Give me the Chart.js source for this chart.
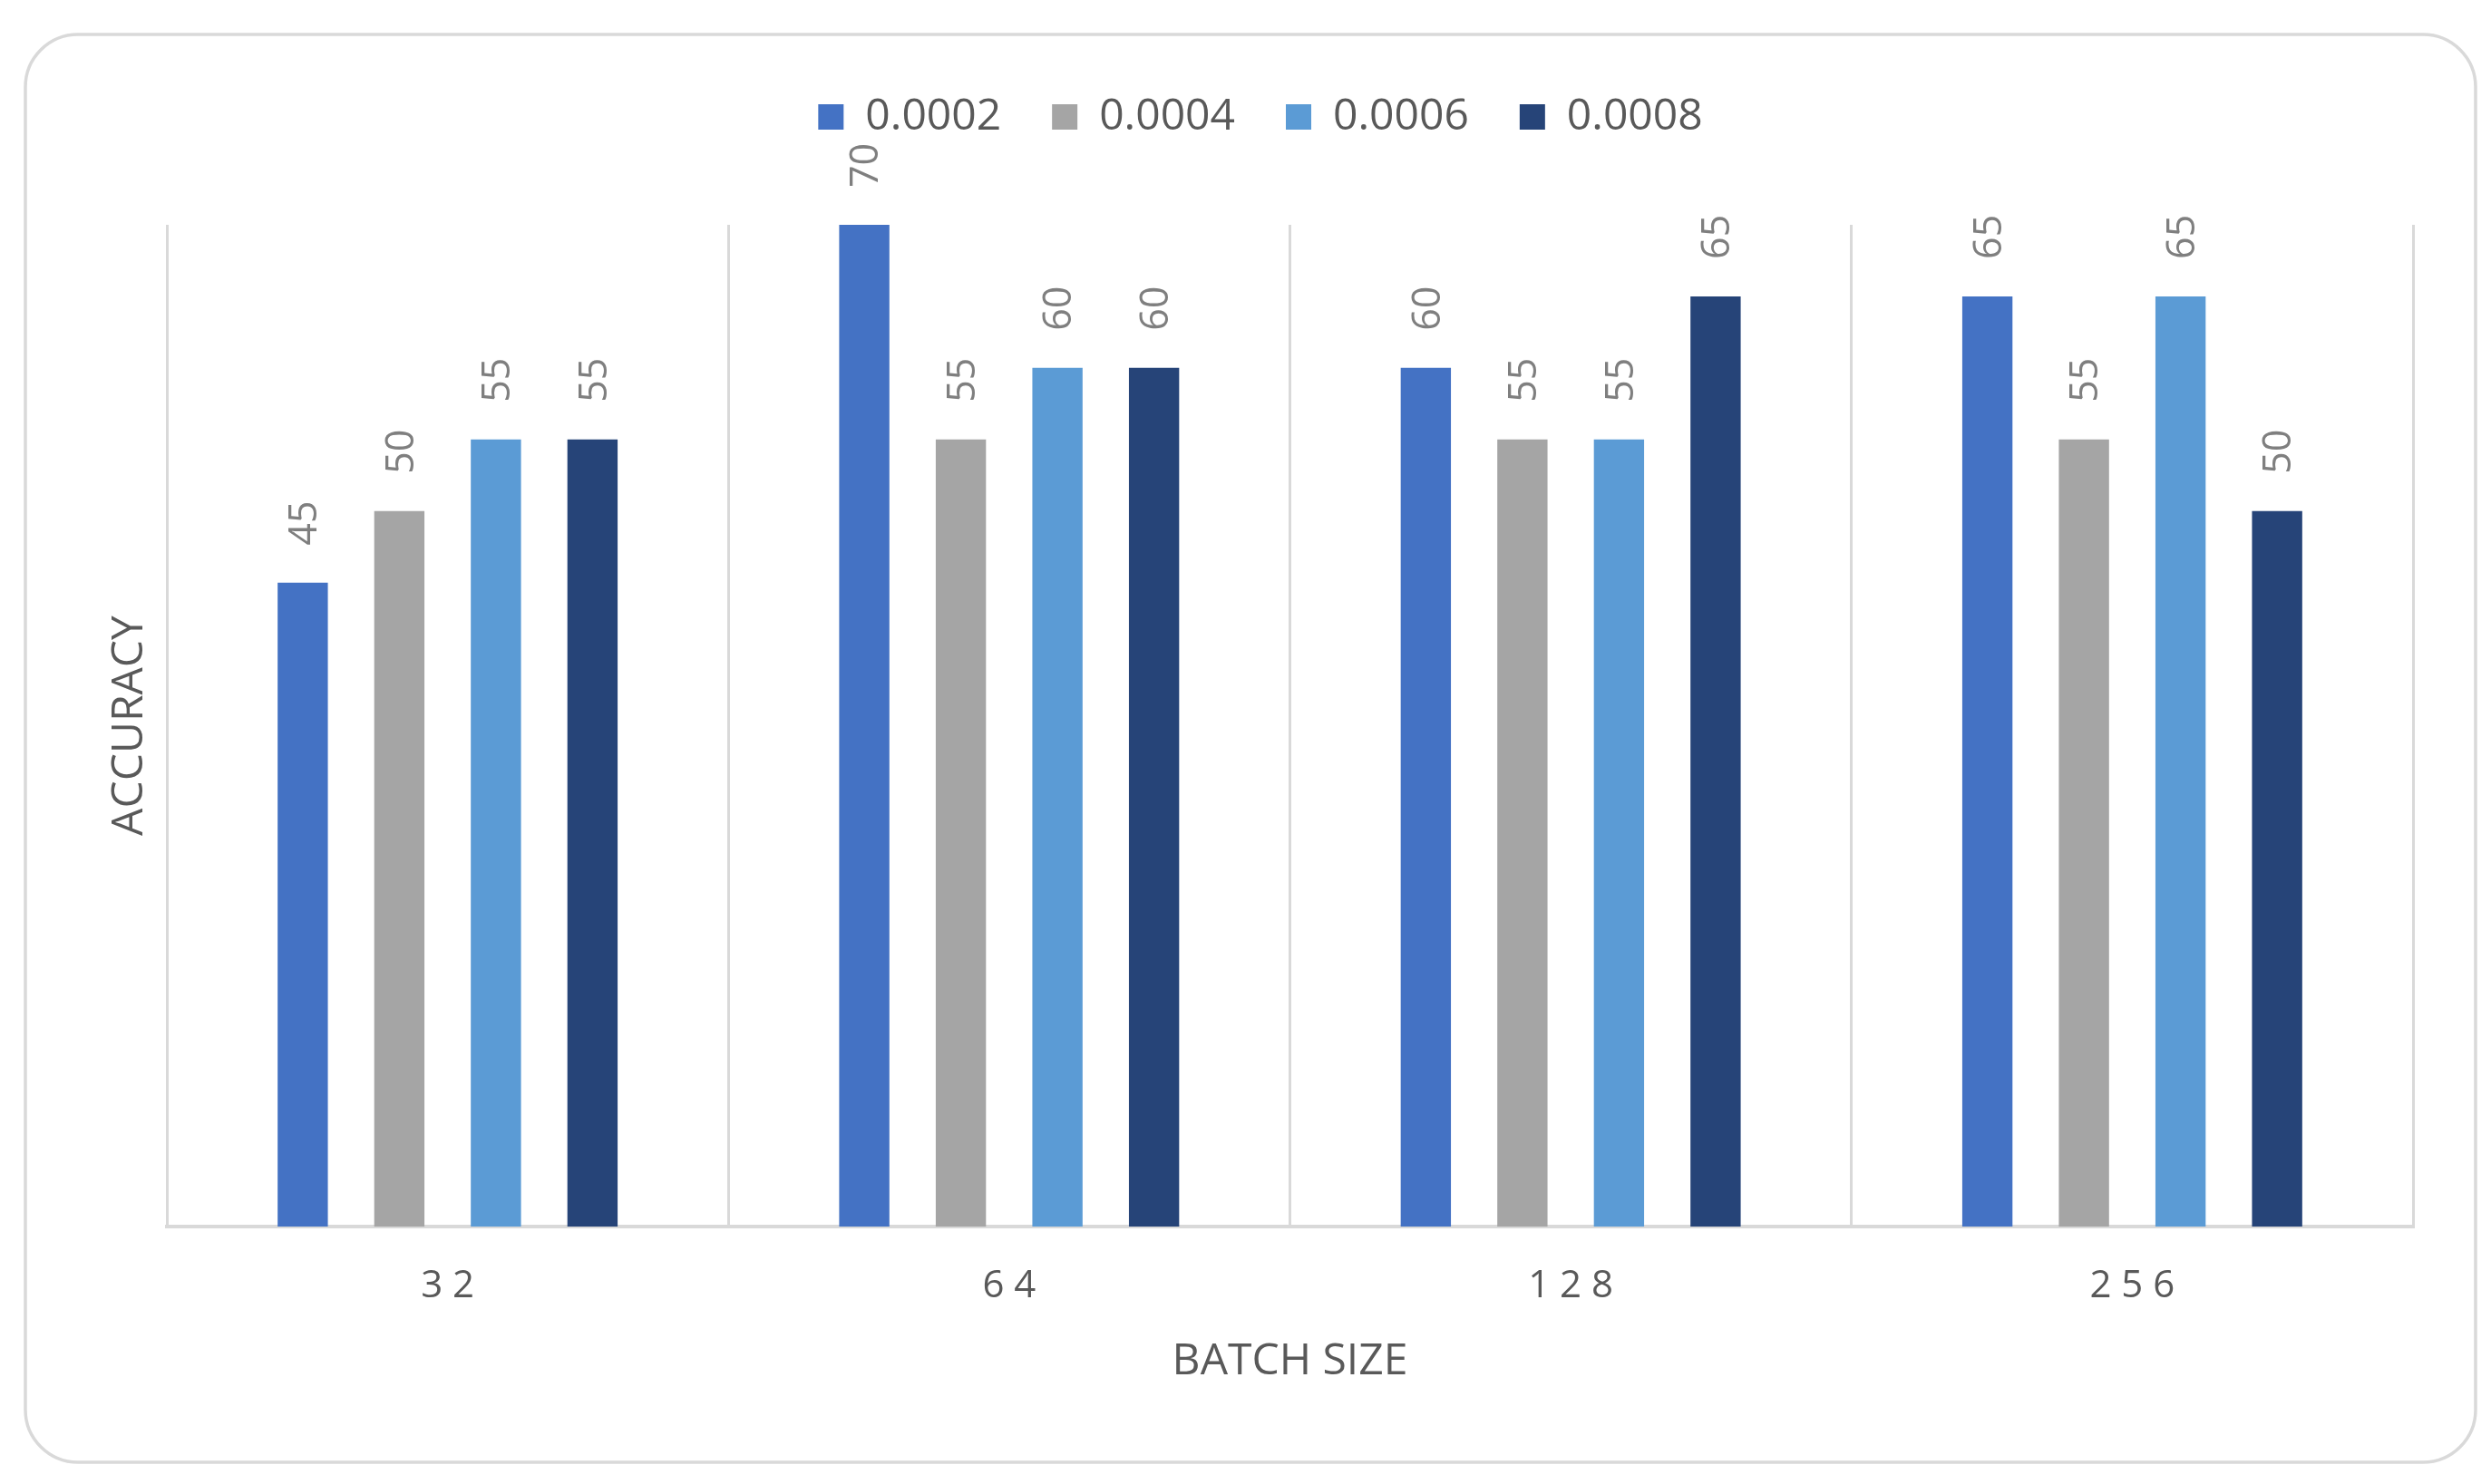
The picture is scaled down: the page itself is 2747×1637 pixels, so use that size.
<!DOCTYPE html>
<html>
<head>
<meta charset="utf-8">
<script src="https://cdn.jsdelivr.net/npm/chart.js@4.4.1/dist/chart.umd.min.js"></script>
<style>
  html, body { margin: 0; padding: 0; background: #ffffff; }
  canvas { display: block; }
</style>
</head>
<body>
<canvas id="c" width="2747" height="1637"></canvas>
<script>
// ---- data ----
const batchSizes = ['32', '64', '128', '256'];
const seriesNames = ['0.0002', '0.0004', '0.0006', '0.0008'];
const acc0002 = [45, 70, 60, 65];
const acc0004 = [50, 55, 55, 55];
const acc0006 = [55, 60, 55, 65];
const acc0008 = [55, 60, 65, 50];
const yMin = 0;
const yMax = 70;

const seriesColors = ['#4472C4', '#A5A5A5', '#5B9BD5', '#264478'];
const seriesValues = [acc0002, acc0004, acc0006, acc0008];
const FONT = "'Open Sans', 'DejaVu Sans', sans-serif";

const frame = {
  id: 'frame',
  beforeDraw(chart) {
    const ctx = chart.ctx;
    ctx.save();
    ctx.fillStyle = '#ffffff';
    ctx.fillRect(0, 0, chart.width, chart.height);
    const x0 = 28, y0 = 38, x1 = 2730, y1 = 1613, r = 58;
    ctx.beginPath();
    ctx.moveTo(x0 + r, y0);
    ctx.lineTo(x1 - r, y0);
    ctx.arcTo(x1, y0, x1, y0 + r, r);
    ctx.lineTo(x1, y1 - r);
    ctx.arcTo(x1, y1, x1 - r, y1, r);
    ctx.lineTo(x0 + r, y1);
    ctx.arcTo(x0, y1, x0, y1 - r, r);
    ctx.lineTo(x0, y0 + r);
    ctx.arcTo(x0, y0, x0 + r, y0, r);
    ctx.closePath();
    ctx.lineWidth = 3.5;
    ctx.strokeStyle = '#d9d9d9';
    ctx.stroke();
    ctx.restore();
  }
};

const valueLabels = {
  id: 'valueLabels',
  afterDatasetsDraw(chart) {
    const ctx = chart.ctx;
    const size = 43;
    ctx.save();
    ctx.font = size + 'px ' + FONT;
    ctx.fillStyle = '#7f7f7f';
    ctx.textAlign = 'left';
    ctx.textBaseline = 'alphabetic';
    chart.data.datasets.forEach((ds, di) => {
      const meta = chart.getDatasetMeta(di);
      meta.data.forEach((bar, i) => {
        ctx.save();
        ctx.translate(bar.x, bar.y - 41);
        ctx.rotate(-Math.PI / 2);
        ctx.fillText(String(ds.data[i]), 0, size * 0.357);
        ctx.restore();
      });
    });
    ctx.restore();
  }
};

new Chart(document.getElementById('c'), {
  type: 'bar',
  data: {
    labels: batchSizes,
    datasets: seriesNames.map((name, i) => ({
      label: name,
      data: seriesValues[i],
      xAxisID: 'x',
      yAxisID: 'y',
      backgroundColor: seriesColors[i],
      borderWidth: 0,
      categoryPercentage: 0.688,
      barPercentage: 0.52
    }))
  },
  options: {
    responsive: false,
    devicePixelRatio: 1,
    animation: false,
    layout: { padding: { left: 119, right: 86, top: 49, bottom: 40 } },
    plugins: {
      legend: {
        position: 'top',
        align: 'center',
        labels: {
          boxWidth: 28,
          boxHeight: 28,
          padding: 56,
          color: '#595959',
          font: { family: FONT, size: 48 }
        }
      },
      tooltip: { enabled: false }
    },
    scales: {
      gap: {
        type: 'linear',
        position: 'top',
        display: true,
        ticks: { display: false },
        grid: { display: false },
        border: { display: false },
        afterFit(s) { s.height = 85; }
      },
      x: {
        position: 'bottom',
        offset: true,
        grid: { color: '#d9d9d9', lineWidth: 3, drawTicks: false, offset: true },
        border: { color: '#d9d9d9', width: 4 },
        ticks: {
          color: '#595959',
          padding: 41,
          font: { family: FONT, size: 42 },
          callback(value) { return this.getLabelForValue(value).split('').join(' '); }
        },
        title: {
          display: true,
          text: 'BATCH SIZE',
          color: '#595959',
          font: { family: FONT, size: 48 },
          padding: { top: 0, bottom: 66 }
        },
        afterFit(s) { s.height = 244; }
      },
      y: {
        min: yMin,
        max: yMax,
        grid: { display: false },
        border: { display: false },
        ticks: { display: false },
        title: {
          display: true,
          text: 'ACCURACY',
          color: '#595959',
          font: { family: FONT, size: 48, lineHeight: 1 },
          padding: { top: 0, bottom: 0 }
        },
        afterFit(s) { s.width = 65; }
      }
    }
  },
  plugins: [frame, valueLabels]
});
</script>
</body>
</html>
